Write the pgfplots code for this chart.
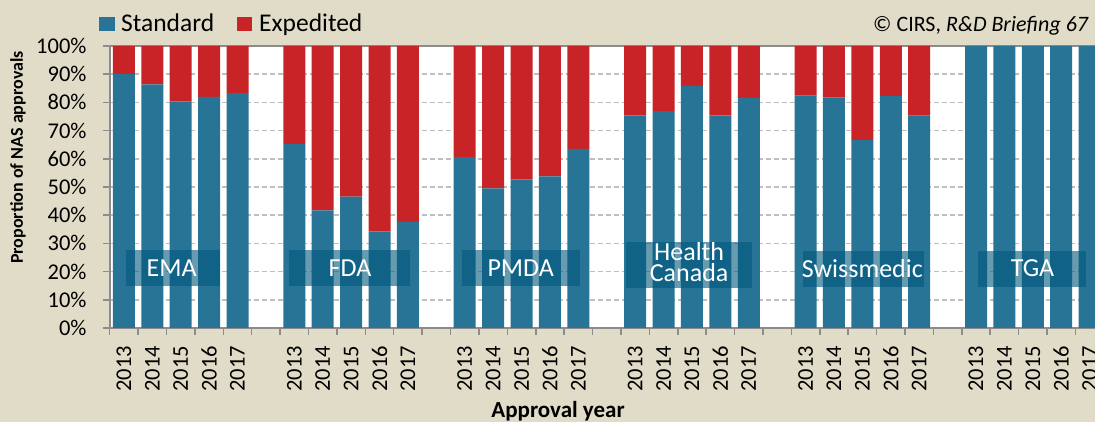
\documentclass[border=0pt]{standalone}
\usepackage{fontspec}
\setmainfont{Carlito}
\usepackage{pgfplots}
\usepackage{pgfplotstable}
\pgfplotsset{compat=1.18}
\definecolor{stdblue}{RGB}{40,116,150}
\definecolor{expred}{RGB}{200,36,40}
\definecolor{bgbeige}{RGB}{224,220,200}
\definecolor{boxblue}{RGB}{0,89,124}
\definecolor{axgray}{RGB}{140,140,140}
\definecolor{gridgray}{RGB}{190,190,190}
\tikzset{agency/.style={text=white, inner sep=0pt, font=\fontsize{26}{21}\selectfont, align=center}}

% x = slot (gaps at 5, 11, 17, 23, 29), std = standard %, exp = expedited %
\pgfplotstableread{
x  std   exp
0  90.0  10.0
1  86.4  13.6
2  80.4  19.6
3  82.0  18.0
4  83.3  16.7
6  65.3  34.7
7  41.7  58.3
8  46.6  53.4
9  34.3  65.7
10 37.6  62.4
12 60.6  39.4
13 49.5  50.5
14 52.7  47.3
15 53.8  46.2
16 63.5  36.5
18 75.4  24.6
19 76.9  23.1
20 85.9  14.1
21 75.4  24.6
22 81.6  18.4
24 82.4  17.6
25 81.7  18.3
26 66.6  33.4
27 82.3  17.7
28 75.3  24.7
30 100   0
31 100   0
32 100   0
33 100   0
34 100   0
}\approvals

\begin{document}
\begin{tikzpicture}
\useasboundingbox (0,0) rectangle (1095pt,422pt);
\fill[bgbeige] (0,0) rectangle (1095pt,422pt);

% legend
\fill[stdblue] (99pt,391pt) rectangle (115pt,405pt);
\node[anchor=base west, inner sep=0pt, font=\fontsize{25.5}{28}\selectfont] at (121pt,390.6pt) {Standard};
\fill[expred] (237pt,391pt) rectangle (252pt,405pt);
\node[anchor=base west, inner sep=0pt, font=\fontsize{25.5}{28}\selectfont] at (259pt,390.6pt) {Expedited};

% source
\node[anchor=base east, inner sep=0pt, font=\fontsize{22}{24}\selectfont] at (1089pt,390.3pt) {© CIRS, \textit{R\&D Briefing 67}};

\begin{axis}[
  at={(109.7pt,94pt)}, anchor=south west,
  scale only axis, width=985.3pt, height=282pt,
  ybar stacked, bar width=22pt,
  xmin=-0.5, xmax=34.19, ymin=0, ymax=100,
  axis background/.style={fill=white},
  axis lines=left, axis line style={axgray, line width=2pt, -},
  ytick={0,10,...,100},
  yticklabel={\pgfmathprintnumber{\tick}\%},
  xtick={-0.5,0.5,...,33.5},
  xticklabels={},
  extra x ticks={0,1,2,3,4,6,7,8,9,10,12,13,14,15,16,18,19,20,21,22,24,25,26,27,28,30,31,32,33,34},
  extra x tick labels={2013,2014,2015,2016,2017,2013,2014,2015,2016,2017,2013,2014,2015,2016,2017,2013,2014,2015,2016,2017,2013,2014,2015,2016,2017,2013,2014,2015,2016,2017},
  extra x tick style={major tick length=0pt, xticklabel style={rotate=90, anchor=east, xshift=-18pt}},
  tick align=outside, major tick length=7pt,
  tick style={axgray, line width=1.5pt},
  ymajorgrids, grid style={gridgray, dash pattern=on 5pt off 3pt, line width=1.5pt},
  /pgf/number format/assume math mode=true,
  tick label style={font=\fontsize{22.5}{24}\selectfont, inner sep=0pt},
  yticklabel style={anchor=east, xshift=-16pt},
  xlabel={Approval year},
  ylabel={Proportion of NAS approvals},
  label style={font=\bfseries\fontsize{23}{25}\selectfont},
  xlabel style={at={(axis description cs:0.455,-0.318)}, anchor=base},
  ylabel style={at={(axis description cs:-0.0931,0.6046)}, anchor=center, font=\bfseries\fontsize{18}{20}\selectfont},
]
\addplot[fill=stdblue, draw=none] table[x=x, y=std] {\approvals};
\addplot[fill=expred, draw=none] table[x=x, y=exp] {\approvals};

\draw[axgray, line width=1.2pt] (rel axis cs:0,1) -- (rel axis cs:1,1);

% corners and centres of the agency labels
\coordinate (a1) at (axis cs:0.074,15);    \coordinate (b1) at (axis cs:3.38,27.7);  \coordinate (c1) at (axis cs:1.68,21.2);
\coordinate (a2) at (axis cs:5.81,14.9);   \coordinate (b2) at (axis cs:10.07,27.7); \coordinate (c2) at (axis cs:7.96,21.2);
\coordinate (a3) at (axis cs:11.91,14.9);  \coordinate (b3) at (axis cs:16.06,27.7); \coordinate (c3) at (axis cs:13.97,21.2);
\coordinate (a4) at (axis cs:17.68,14.3);  \coordinate (b4) at (axis cs:22.12,30.5); \coordinate (c4) at (axis cs:19.9,23.4);
\coordinate (a5) at (axis cs:23.91,14.5);  \coordinate (b5) at (axis cs:28.17,27.3); \coordinate (c5) at (axis cs:26.0,21.2);
\coordinate (a6) at (axis cs:30.07,14.5);  \coordinate (b6) at (axis cs:33.88,27.3); \coordinate (c6) at (axis cs:31.99,21.2);
\end{axis}

\foreach \i in {1,...,6} {\fill[boxblue, fill opacity=0.6] (a\i) rectangle (b\i);}
\node[agency] at (c1) {EMA};
\node[agency] at (c2) {FDA};
\node[agency] at (c3) {PMDA};
\node[agency] at (c4) {Health\\Canada};
\node[agency] at (c5) {Swissmedic};
\node[agency] at (c6) {TGA};
\end{tikzpicture}
\end{document}
